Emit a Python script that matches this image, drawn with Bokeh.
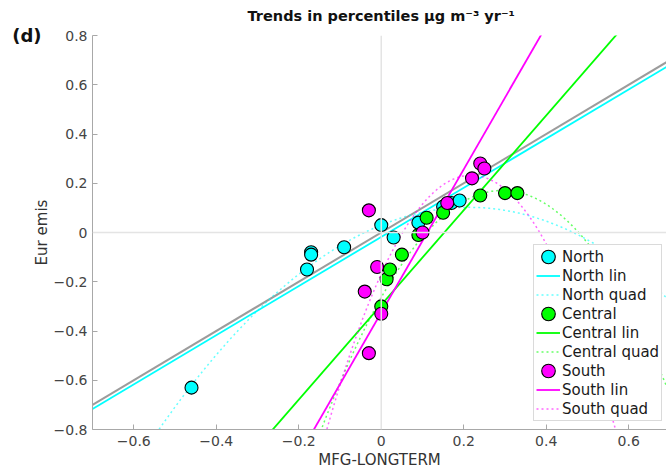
import numpy as np
from bokeh.plotting import figure
from bokeh.models import Span, Legend, LegendItem, FixedTicker, Range1d, LinearAxis
from bokeh.embed import file_html
from bokeh.resources import INLINE

# ---- data ----
north_x = [-0.46, -0.18, -0.17, -0.17, -0.09, 0.00, 0.03, 0.09, 0.15, 0.17, 0.19]
north_y = [-0.63, -0.15, -0.08, -0.09, -0.06, 0.03, -0.02, 0.04, 0.105, 0.12, 0.13]

central_x = [0.00, 0.013, 0.021, 0.05, 0.09, 0.11, 0.15, 0.24, 0.30, 0.33]
central_y = [-0.30, -0.19, -0.15, -0.09, -0.01, 0.06, 0.08, 0.15, 0.16, 0.16]

south_x = [-0.04, -0.03, -0.03, -0.01, 0.00, 0.10, 0.16, 0.22, 0.24, 0.25]
south_y = [-0.24, 0.09, -0.49, -0.14, -0.33, 0.00, 0.12, 0.22, 0.28, 0.26]

# linear fits: [slope, intercept]
north_lin = [0.998, -0.018]
central_lin = [1.924, -0.294]
south_lin = [2.909, -0.325]
one_to_one = [1.0, 0.0]

# quadratic fits: [c2, c1, c0]
north_quad = [-1.598, 0.679, 0.030]
central_quad = [-5.03, 2.958, -0.264]
south_quad = [-8.43, 3.675, -0.168]

x_ticks = [-0.6, -0.4, -0.2, 0, 0.2, 0.4, 0.6]
x_tick_labels = ["\u22120.6", "\u22120.4", "\u22120.2", "0", "0.2", "0.4", "0.6"]
y_ticks = [-0.8, -0.6, -0.4, -0.2, 0, 0.2, 0.4, 0.6, 0.8]
y_tick_labels = ["\u22120.8", "\u22120.6", "\u22120.4", "\u22120.2", "0", "0.2", "0.4", "0.6", "0.8"]

title_text = "Trends in percentiles \u03bcg m\u207b\u00b3 yr\u207b\u00b9"
title_tick = [0]
panel_text = "(d)"
panel_tick = [0.8]
x_label = "MFG-LONGTERM"
y_label = "Eur emis"

CYAN, GREEN, MAGENTA, GRAY = "#00FFFF", "#00FF00", "#FF00FF", "#9C9C9C"
FONT = "DejaVu Sans"

X0, X1 = -0.7, 0.6915
p = figure(width=666, height=471, x_range=Range1d(X0, X1), y_range=Range1d(-0.8, 0.8),
           output_backend="svg", toolbar_location=None,
           min_border_left=92, min_border_right=0, min_border_top=35, min_border_bottom=42)
p.outline_line_color = None
p.grid.visible = False
p.background_fill_color = "white"
p.border_fill_color = "white"

p.add_layout(Span(location=0, dimension="height", line_color="#e4e4e4", line_width=1.5))
p.add_layout(Span(location=0, dimension="width", line_color="#e4e4e4", line_width=1.5))

xs_line = np.array([X0, 0.7])
xs_quad = np.linspace(X0, 0.7, 401)

def lin(c):
    return c[0] * xs_line + c[1]

def quad(c):
    return c[0] * xs_quad ** 2 + c[1] * xs_quad + c[2]

p.line(xs_line, lin(one_to_one), line_color=GRAY, line_width=2)

groups = [
    ("North", north_x, north_y, north_lin, north_quad, CYAN),
    ("Central", central_x, central_y, central_lin, central_quad, GREEN),
    ("South", south_x, south_y, south_lin, south_quad, MAGENTA),
]

items = []
line_r = {}
for name, gx, gy, gl, gq, col in groups:
    rl = p.line(xs_line, lin(gl), line_color=col, line_width=1.8)
    rq = p.line(xs_quad, quad(gq), line_color=col, line_width=1.5, line_alpha=0.6, line_dash="2 3")
    line_r[name] = (rl, rq)

for name, gx, gy, gl, gq, col in groups:
    rs = p.ellipse(gx, gy, width=13, height=13, width_units="screen", height_units="screen",
                   fill_color=col, line_color="black", line_width=1.1)
    rl, rq = line_r[name]
    items += [LegendItem(label=name, renderers=[rs]),
              LegendItem(label=name + " lin", renderers=[rl]),
              LegendItem(label=name + " quad", renderers=[rq])]

legend = Legend(items=items, location=(441, 8), margin=0, padding=2, spacing=0,
                label_height=19, glyph_height=17, glyph_width=24, label_standoff=2,
                label_text_font=FONT, label_text_font_size="15px", label_text_color="#1a1a1a",
                border_line_color="#b5b5b5", border_line_width=1, background_fill_alpha=1)
p.add_layout(legend)

for ax in (p.xaxis[0], p.yaxis[0]):
    ax.axis_line_color = "#a8a8a8"
    ax.major_tick_line_color = "#a8a8a8"
    ax.major_tick_in = 5
    ax.major_tick_out = 0
    ax.minor_tick_line_color = None
    ax.major_label_text_font = FONT
    ax.major_label_text_font_size = "14px"
    ax.major_label_text_color = "#444444"
    ax.axis_label_text_font = FONT
    ax.axis_label_text_font_size = "15px"
    ax.axis_label_text_font_style = "normal"
    ax.axis_label_text_color = "#333333"

p.xaxis.ticker = FixedTicker(ticks=x_ticks)
p.xaxis.major_label_overrides = dict(zip(x_ticks, x_tick_labels))
p.yaxis.ticker = FixedTicker(ticks=y_ticks)
p.yaxis.major_label_overrides = dict(zip(y_ticks, y_tick_labels))
p.xaxis.axis_label = x_label
p.yaxis.axis_label = y_label
p.xaxis.major_label_standoff = 6
p.xaxis.axis_label_standoff = 2
p.yaxis.major_label_standoff = 5
p.yaxis.axis_label_standoff = 0

# panel letter "(d)" as the single tick label of an extra, line-less left axis
panel_axis = LinearAxis(ticker=FixedTicker(ticks=panel_tick),
                        major_label_overrides={panel_tick[0]: panel_text},
                        axis_line_color=None, major_tick_line_color=None,
                        minor_tick_line_color=None, major_tick_in=0, major_tick_out=0,
                        major_label_standoff=-12, major_label_text_font=FONT,
                        major_label_text_font_size="18px", major_label_text_font_style="bold",
                        major_label_text_color="#111111")
p.add_layout(panel_axis, "left")

# title as the single tick label of a line-less top axis, centred on x = 0
title_axis = LinearAxis(ticker=FixedTicker(ticks=title_tick),
                        major_label_overrides={title_tick[0]: title_text},
                        axis_line_color=None, major_tick_line_color=None,
                        minor_tick_line_color=None, major_tick_in=0, major_tick_out=0,
                        major_label_standoff=12, major_label_text_font=FONT,
                        major_label_text_font_size="14.5px", major_label_text_font_style="bold",
                        major_label_text_color="#111111")
p.add_layout(title_axis, "above")

open("out.html", "w").write(file_html(p, INLINE))
